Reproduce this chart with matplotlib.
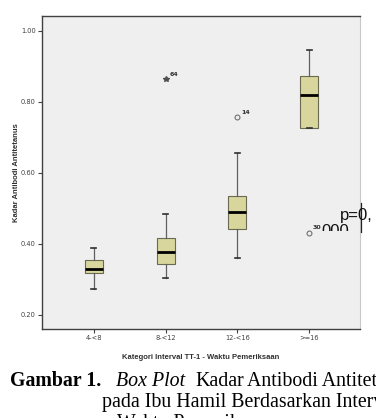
import matplotlib.pyplot as plt
from matplotlib.patches import Rectangle

# box plot of antibody levels per TT-1 interval category
categories = ['4-<8', '8-<12', '12-<16', '>=16']
whisker_lo = [0.274, 0.303, 0.360, 0.726]
q1 = [0.319, 0.342, 0.443, 0.726]
median = [0.330, 0.377, 0.489, 0.818]
q3 = [0.355, 0.417, 0.535, 0.874]
whisker_hi = [0.389, 0.483, 0.657, 0.947]
outlier_vals = [[], [0.864], [0.757], [0.431]]
outlier_ids = [[], ['64'], ['14'], ['30']]
outlier_kind = [[], ['extreme'], ['mild'], ['mild']]
yticks = [0.20, 0.40, 0.60, 0.80, 1.00]

fig = plt.figure(figsize=(3.76, 4.18), dpi=100)
ax = fig.add_axes([42/376, 1-329/418, (360-42)/376, (329-16)/418])
ax.set_facecolor('#efefef')

stats = []
for i in range(len(categories)):
    stats.append({'whislo': whisker_lo[i], 'q1': q1[i], 'med': median[i],
                  'q3': q3[i], 'whishi': whisker_hi[i], 'fliers': []})

ax.bxp(stats, positions=range(1, 5), widths=0.25, patch_artist=True,
       showfliers=False,
       boxprops=dict(facecolor='#d8d69c', edgecolor='#6a6a50', linewidth=0.8),
       medianprops=dict(color='black', linewidth=2),
       whiskerprops=dict(color='#606060', linewidth=0.9),
       capprops=dict(color='#303030', linewidth=1.2),
       capwidths=0.07)

for i in range(len(categories)):
    for v, lab, kind in zip(outlier_vals[i], outlier_ids[i], outlier_kind[i]):
        if kind == 'extreme':
            ax.plot(i + 1, v, marker='*', ms=4, color='#505050', mec='#505050', ls='none')
        else:
            ax.plot(i + 1, v, marker='o', ms=3.5, mfc='none', mec='#707070', mew=0.8, ls='none')
        ax.annotate(lab, (i + 1, v), xytext=(2.5, 2.5), textcoords='offset points',
                    fontsize=4.5, color='#303030', fontweight='bold')

ax.set_xlim(0.275, 4.71)
ax.set_ylim(0.160, 1.042)
ax.set_xticks(range(1, 5))
ax.set_xticklabels(categories, fontsize=4.8, color='#404040')
ax.set_yticks(yticks)
ax.set_yticklabels(['%.2f' % t for t in yticks], fontsize=4.8, color='#404040')
ax.tick_params(length=3, width=0.8, color='#404040', pad=1.5)

ax.set_ylabel('Kadar Antibodi Antitetanus', fontsize=5.5, fontweight='bold',
              family='Liberation Sans', color='#303030')
ax.yaxis.set_label_coords(-0.069, 0.5)
ax.set_xlabel('Kategori Interval TT-1 - Waktu Pemeriksaan', fontsize=5.5,
              fontweight='bold', family='Liberation Sans', color='#303030')
ax.xaxis.set_label_coords(0.5, -0.080)

for s in ['left', 'bottom', 'top']:
    ax.spines[s].set_color('#404040')
    ax.spines[s].set_linewidth(1.0)
ax.spines['right'].set_color('#c8c8c8')
ax.spines['right'].set_linewidth(0.8)

# overlaid document text
fig.text(340/376, 1-220/418, 'p=0,', fontsize=12, family='Liberation Sans',
         ha='left', va='baseline', color='#111111')
t = fig.text(321/376, 1-224/418, '000', fontsize=12, family='Liberation Sans',
             ha='left', va='top', color='#111111')
clip = Rectangle((0, 1-231/418), 1, 0.2, transform=fig.transFigure)
t.set_clip_path(clip)
fig.add_artist(plt.Line2D([361/376, 361/376], [1-203/418, 1-232/418],
                          transform=fig.transFigure, color='#222222', lw=0.9))

# caption
cap = dict(fontsize=14.3, family='Liberation Serif', va='baseline', ha='left')
fig.text(10/376, 1-386/418, 'Gambar 1.', fontweight='bold', **cap)
fig.text(116/376, 1-386/418, 'Box Plot', style='italic', **cap)
fig.text(195/376, 1-386/418, 'Kadar', **cap)
fig.text(247/376, 1-386/418, 'Antibodi Antitetanus', **cap)
fig.text(102/376, 1-407/418, 'pada Ibu Hamil Berdasarkan Interval', **cap)
fig.text(117/376, 1-428/418, 'Waktu Pemeriksaan', **cap)

fig.savefig('out.png', dpi=100)
